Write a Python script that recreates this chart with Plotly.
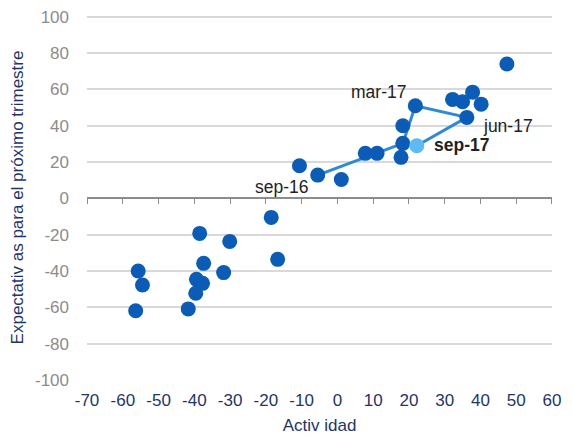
import plotly.graph_objects as go

# Scatter data (Actividad, Expectativas)
act = [47.4, 37.8, 32.2, 35.0, 40.2, 36.2, 21.8, 18.3, 18.3, 17.8, 11.1, 7.8, 1.1, -5.5, -10.6,
       -18.5, -16.7, -38.5, -30.1, -37.4, -31.8, -39.4, -37.7, -39.6, -41.7, -55.7, -54.5, -56.4]
exp_ = [74.0, 58.5, 54.5, 53.2, 51.9, 44.6, 51.0, 40.0, 30.3, 22.6, 24.8, 24.8, 10.4, 12.8, 18.0,
        -10.5, -33.6, -19.3, -23.7, -35.8, -40.9, -44.6, -46.8, -52.3, -60.9, -40.0, -47.7, -61.9]

# Recent path (quarterly)
path_labels = ["sep-16", "dec-16", "mar-17", "jun-17", "sep-17"]
path_act = [-5.5, 18.3, 21.8, 36.2, 22.2]
path_exp = [12.8, 30.3, 51.0, 44.6, 29.0]

x_ticks = list(range(-70, 61, 10))
y_ticks = list(range(-100, 101, 20))
x_ticktext = [str(v) for v in x_ticks]
y_ticktext = [str(v) for v in y_ticks]

font = "Liberation Sans, Arial, sans-serif"
navy = "#1f3566"
dot = "#0a5cb6"

fig = go.Figure()
fig.add_trace(go.Scatter(x=path_act, y=path_exp, mode="lines",
                         line=dict(color="#2f8ad4", width=3), hoverinfo="skip", showlegend=False))
fig.add_trace(go.Scatter(x=act, y=exp_, mode="markers",
                         marker=dict(color=dot, size=15, line=dict(width=0)), showlegend=False))
fig.add_trace(go.Scatter(x=[path_act[-1]], y=[path_exp[-1]], mode="markers",
                         marker=dict(color="#5cbaf5", size=15, line=dict(width=0)), showlegend=False))
# invisible trace for the tick-mark axis at y=0
fig.add_trace(go.Scatter(x=[x_ticks[0]], y=[0], xaxis="x2", mode="markers",
                         marker=dict(opacity=0), hoverinfo="skip", showlegend=False))

ann = [("mar-17", 11.4, 58.5, False), ("jun-17", 47.7, 39.8, False),
       ("sep-17", 34.6, 29.3, True), ("sep-16", -15.4, 6.2, False)]
for t, ax, ay, b in ann:
    fig.add_annotation(x=ax, y=ay, text=f"<b>{t}</b>" if b else t, showarrow=False,
                       font=dict(family=font, size=17.5, color="#222222"))

y_lo, y_hi = -100.05, 101.0
fig.update_layout(
    width=565, height=428,
    margin=dict(l=79, r=21, t=7, b=56),
    paper_bgcolor="white", plot_bgcolor="white",
    font=dict(family=font, size=17),
    xaxis=dict(range=[-70.01, 60.01], tickvals=x_ticks, ticktext=x_ticktext, showgrid=False,
               zeroline=False, automargin=False, ticklabeloverflow="allow",
               showline=False, ticks="", ticklabelstandoff=8, tickfont=dict(color=navy, size=17),
               title=dict(text="Activ idad", font=dict(color=navy, size=17), standoff=10)),
    xaxis2=dict(range=[-70.01, 60.01], tickvals=x_ticks, overlaying="x", anchor="free",
                position=(0 - y_lo) / (y_hi - y_lo), side="bottom", showline=True,
                linecolor="#8c8c8c", linewidth=1.5,
                ticks="outside", ticklen=5, tickcolor="#8c8c8c", showticklabels=False,
                showgrid=False, zeroline=False, automargin=False),
    yaxis=dict(range=[y_lo, y_hi], tickvals=y_ticks, ticktext=y_ticktext, showgrid=True,
               gridcolor="#d9d9d9", automargin=False, ticklabeloverflow="allow",
               gridwidth=1.5, zeroline=False, showline=False, ticklabelstandoff=17,
               tickfont=dict(color="#8c8c8c", size=17),
               title=dict(text="Expectativ as para el próximo trimestre",
                          font=dict(color=navy, size=17), standoff=8)),
)

fig.write_html("out.html")
